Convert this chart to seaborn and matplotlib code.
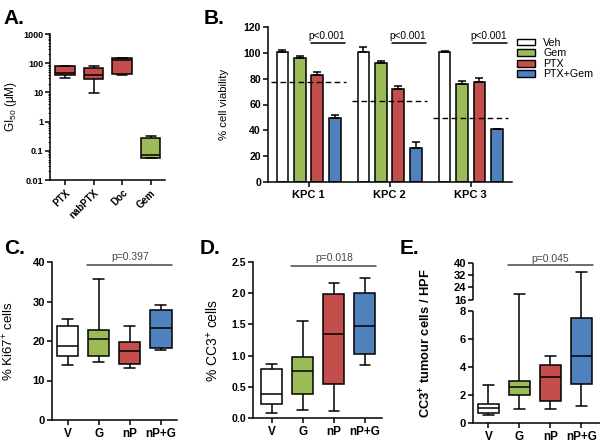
import numpy as np
import pandas as pd
import matplotlib
matplotlib.use("Agg")
import matplotlib.pyplot as plt
from matplotlib.patches import Patch
from matplotlib.ticker import LogLocator, FixedLocator, NullFormatter
import seaborn as sns

sns.set_style("ticks")
plt.rcParams["font.family"] = ["Liberation Sans", "DejaVu Sans"]
plt.rcParams.update({
    "axes.linewidth": 1.1, "axes.edgecolor": "black", "axes.labelcolor": "black",
    "text.color": "black", "xtick.color": "black", "ytick.color": "black",
    "xtick.major.width": 1.1, "ytick.major.width": 1.1,
    "xtick.major.size": 3.5, "ytick.major.size": 3.5,
    "ytick.minor.size": 1.8, "ytick.minor.width": 0.6,
    "xtick.major.pad": 2, "ytick.major.pad": 1.5,
    "mathtext.default": "regular",
})

RED, GREEN, BLUE, WHITE = "#C44E4C", "#9BBB59", "#4F81BD", "white"
PGRAY = "#454545"

# ---------------- data ----------------
# A: GI50 box plots (min, q1, median, q3, max)
drugs = ["PTX", "nabPTX", "Doc", "Gem"]
gi50_min = [32, 9.7, 39, 0.056]
gi50_q1 = [38, 28, 43, 0.056]
gi50_med = [48, 38, 130, 0.073]
gi50_q3 = [80, 66, 145, 0.28]
gi50_max = [80, 80, 145, 0.33]
a_ticks = [0.01, 0.1, 1, 10, 100, 1000]
a_ticklabels = ["0.01", "0.1", "1", "10", "100", "1000"]

# B: cell viability
lines_b = ["KPC 1", "KPC 2", "KPC 3"]
treatments = ["Veh", "Gem", "PTX", "PTX+Gem"]
veh_mean = [100.3, 100.3, 100.5]
gem_mean = [95.9, 92.0, 76.2]
ptx_mean = [83.0, 72.0, 77.5]
combo_mean = [49.2, 26.7, 40.7]
veh_sem = [1.6, 4.0, 1.0]
gem_sem = [2.0, 1.5, 2.0]
ptx_sem = [2.5, 2.5, 3.4]
combo_sem = [3.0, 4.0, 0.6]
expected_additive = [77.2, 63.0, 49.2]
b_pvals = ["p<0.001", "p<0.001", "p<0.001"]
b_pline = [107.3, 107.3, 107.3]

# C/D/E groups
groups = ["V", "G", "nP", "nP+G"]
# C: Ki67
ki67_min = [13.9, 14.6, 13.1, 17.7]
ki67_q1 = [16.3, 16.2, 14.2, 18.3]
ki67_med = [18.8, 20.5, 17.5, 23.3]
ki67_q3 = [23.8, 22.7, 19.7, 27.9]
ki67_max = [25.5, 35.7, 23.9, 29.0]
c_p, c_pline = "p=0.397", 39.2
# D: CC3 %
cc3_min = [0.08, 0.13, 0.11, 0.85]
cc3_q1 = [0.23, 0.38, 0.55, 1.02]
cc3_med = [0.39, 0.755, 1.35, 1.47]
cc3_q3 = [0.79, 0.98, 1.98, 2.0]
cc3_max = [0.87, 1.55, 2.16, 2.245]
d_p, d_pline = "p=0.018", 2.44
# E: CC3 tumour cells / HPF
hpf_min = [0.58, 0.98, 0.98, 1.22]
hpf_q1 = [0.72, 1.97, 1.6, 2.78]
hpf_med = [1.05, 2.6, 3.28, 4.8]
hpf_q3 = [1.33, 3.0, 4.17, 7.5]
hpf_max = [2.72, 19.5, 4.78, 34.3]
e_p, e_pline = "p=0.045", 38.9
e_ticks = [0, 2, 4, 6, 8, 16, 24, 32, 40]

box_colors = [WHITE, GREEN, RED, BLUE]
drug_colors = [RED, RED, RED, GREEN]


def five_num_frame(cats, mins, q1s, meds, q3s, maxs):
    rows = []
    for g, a, b, c, d, e in zip(cats, mins, q1s, meds, q3s, maxs):
        for v in (a, b, c, d, e):
            rows.append({"group": g, "value": v})
    return pd.DataFrame(rows)


def draw_box(ax, df, cats, colors, width):
    sns.boxplot(data=df, x="group", y="value", hue="group", order=cats, hue_order=cats,
                palette=dict(zip(cats, colors)), whis=(0, 100), width=width,
                linecolor="black", linewidth=1.1, showfliers=False, legend=False,
                saturation=1, ax=ax)
    ax.set_xlabel("")


W, H = 600, 443
fig = plt.figure(figsize=(6, 4.43), dpi=100)


def ax_px(left, top, right, bottom):
    return fig.add_axes([left / W, 1 - bottom / H, (right - left) / W, (bottom - top) / H])


def label_coords(ax, off_px, width_px):
    ax.yaxis.set_label_coords(-off_px / width_px, 0.5)


BOLD = "bold"

# ---------------- A ----------------
axA = ax_px(50, 34, 165, 180)
axA.set_yscale("log")
dfA = five_num_frame(drugs, gi50_min, gi50_q1, gi50_med, gi50_q3, gi50_max)
draw_box(axA, dfA, drugs, drug_colors, 0.68)
axA.set_ylim(0.01, 1000)
axA.set_xlim(-0.53, 3.5)
axA.yaxis.set_major_locator(FixedLocator(a_ticks))
axA.set_yticklabels(a_ticklabels, fontsize=6.5, fontweight=BOLD)
axA.yaxis.set_minor_locator(LogLocator(base=10, subs=np.arange(2, 10)))
axA.yaxis.set_minor_formatter(NullFormatter())
axA.set_xticks(range(len(drugs)))
axA.set_xticklabels(drugs, rotation=45, ha="right", rotation_mode="anchor",
                    fontsize=7, fontweight=BOLD)
axA.set_ylabel("GI$_{50}$ (\u03bcM)", fontsize=8.5)
label_coords(axA, 31, 115)
sns.despine(ax=axA)

# ---------------- B ----------------
axB = ax_px(268, 27, 512, 182)
means = [veh_mean, gem_mean, ptx_mean, combo_mean]
sems = [veh_sem, gem_sem, ptx_sem, combo_sem]
rows = []
for t, m_list, s_list in zip(treatments, means, sems):
    for ln, m, s in zip(lines_b, m_list, s_list):
        rows.append({"line": ln, "treatment": t, "mean": m, "sem": s})
dfB = pd.DataFrame(rows)
sns.barplot(data=dfB, x="line", y="mean", hue="treatment", order=lines_b,
            hue_order=treatments, palette=dict(zip(treatments, box_colors)),
            errorbar=None, width=0.86, gap=0.33, edgecolor="black", linewidth=1.1,
            saturation=1, legend=False, ax=axB)
for cont, t in zip(axB.containers, treatments):
    sub = dfB[dfB.treatment == t].set_index("line").loc[lines_b]
    xs = [p.get_x() + p.get_width() / 2 for p in cont]
    hs = [p.get_height() for p in cont]
    axB.errorbar(xs, hs, yerr=[np.zeros(len(xs)), sub["sem"].values], fmt="none",
                 ecolor="black", elinewidth=1.1, capsize=3, capthick=1.1, zorder=3)
gx = np.arange(len(lines_b))
axB.hlines(expected_additive, gx - 0.46, gx + 0.46, colors="black", lw=1.0,
           linestyles=(0, (4, 2.5)), zorder=4)
for i, (pt, py) in enumerate(zip(b_pvals, b_pline)):
    axB.plot([i + 0.035, i + 0.45], [py, py], color="black", lw=1.1)
    axB.text(i + 0.22, py + 1.6, pt, ha="center", va="bottom", fontsize=7.3)
axB.set_ylim(0, 120)
axB.set_xlim(-0.5, 2.51)
axB.set_yticks(np.arange(0, 121, 20))
axB.tick_params(axis="y", labelsize=7.6)
axB.tick_params(axis="x", labelsize=8)
for lab in axB.get_yticklabels() + axB.get_xticklabels():
    lab.set_fontweight(BOLD)
axB.set_xlabel("")
axB.set_ylabel("% cell viability", fontsize=8.2)
label_coords(axB, 39, 244)
handles = [Patch(facecolor=c, edgecolor="black", linewidth=1.0) for c in box_colors]
axB.legend(handles, treatments, loc="upper left", bbox_to_anchor=(1.02, 0.93),
           frameon=False, fontsize=7.7, handlelength=1.7, handleheight=0.6,
           handletextpad=0.75, labelspacing=0.05, borderaxespad=0, borderpad=0)
sns.despine(ax=axB)


def finish_cde(ax, ylabel, lab_fs, off_px, width_px, tick_fs, cat_fs, ylab_weight):
    ax.set_xticks(range(len(groups)))
    ax.set_xticklabels(groups, fontsize=cat_fs, fontweight=BOLD)
    ax.tick_params(axis="y", labelsize=tick_fs)
    for lab in ax.get_yticklabels():
        lab.set_fontweight(BOLD)
    ax.set_ylabel(ylabel, fontsize=lab_fs, fontweight=ylab_weight)
    label_coords(ax, off_px, width_px)
    sns.despine(ax=ax)


def pline(ax, y, text, ytext):
    ax.plot([1 - 0.37, 3 + 0.36], [y, y], color=PGRAY, lw=1.1, clip_on=False)
    ax.text(2, ytext, text, ha="center", va="bottom", fontsize=7.5, color=PGRAY)


# ---------------- C ----------------
axC = ax_px(52, 262, 177, 420)
dfC = five_num_frame(groups, ki67_min, ki67_q1, ki67_med, ki67_q3, ki67_max)
draw_box(axC, dfC, groups, box_colors, 0.69)
axC.set_ylim(0, 40)
axC.set_xlim(-0.5, 3.52)
axC.set_yticks([0, 10, 20, 30, 40])
finish_cde(axC, "% Ki67$^{+}$ cells", 9.5, 36, 125, 8, 8.5, "normal")
pline(axC, c_pline, c_p, c_pline + 0.8)

# ---------------- D ----------------
axD = ax_px(253, 262, 382, 418)
dfD = five_num_frame(groups, cc3_min, cc3_q1, cc3_med, cc3_q3, cc3_max)
draw_box(axD, dfD, groups, box_colors, 0.68)
axD.set_ylim(0, 2.5)
axD.set_xlim(-0.6, 3.55)
axD.set_yticks(np.arange(0, 2.51, 0.5))
axD.set_yticklabels([f"{v:.1f}" for v in np.arange(0, 2.51, 0.5)])
finish_cde(axD, "% CC3$^{+}$ cells", 10, 32, 129, 7.6, 8.5, "normal")
pline(axD, d_pline, d_p, d_pline + 0.05)

# ---------------- E ----------------
axE = ax_px(473, 263, 600, 423)
e_xp = np.array([-1000.0, 0.0, 8.0, 16.0, 40.0, 1000.0])
e_fp = np.array([-14000.0, 0.0, 112.0, 123.7, 160.4, 160.4 + 960 * 1.53])
axE.set_yscale("function", functions=(lambda v: np.interp(v, e_xp, e_fp),
                                      lambda v: np.interp(v, e_fp, e_xp)))
axE.set_ylim(0, 40)
dfE = five_num_frame(groups, hpf_min, hpf_q1, hpf_med, hpf_q3, hpf_max)
draw_box(axE, dfE, groups, box_colors, 0.66)
axE.set_ylim(0, 40)
axE.set_xlim(-0.5, 3.6)
axE.yaxis.set_major_locator(FixedLocator(e_ticks))
axE.set_yticklabels([str(t) for t in e_ticks])
finish_cde(axE, "CC3$^{+}$ tumour cells / HPF", 9.3, 39, 127, 8, 8.5, "bold")
axE.spines["left"].set_visible(False)
ytr = axE.get_yaxis_transform()
for seg in ([0, 8], [16, 40]):
    axE.plot([0, 0], seg, transform=ytr, color="black", lw=1.1, clip_on=False,
             solid_capstyle="butt")
pline(axE, e_pline, e_p, 39.6)

# ---------------- panel letters ----------------
for txt, x, y in [("A.", 3, 24), ("B.", 204, 24), ("C.", 4, 254), ("D.", 200, 254), ("E.", 400, 254)]:
    fig.text(x / W, 1 - y / H, txt, fontsize=15, fontweight="bold", ha="left", va="baseline")

fig.savefig("out.png", dpi=100)
